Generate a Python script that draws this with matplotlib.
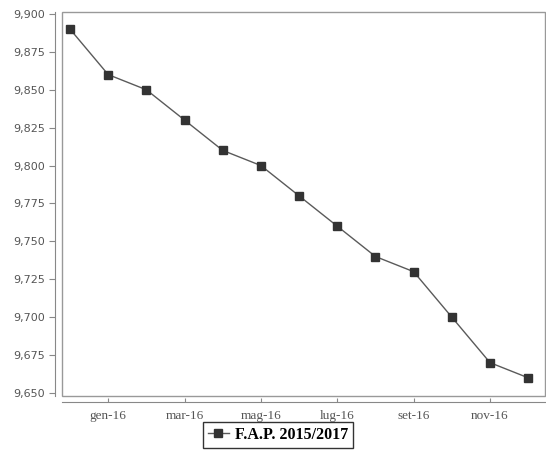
import matplotlib.pyplot as plt
from matplotlib.patches import Rectangle
from matplotlib.ticker import FuncFormatter

months = ["dic-15", "gen-16", "feb-16", "mar-16", "apr-16", "mag-16", "giu-16",
          "lug-16", "ago-16", "set-16", "ott-16", "nov-16", "dic-16"]
fap = [9.89, 9.86, 9.85, 9.83, 9.81, 9.80, 9.78, 9.76, 9.74, 9.73, 9.70, 9.67, 9.66]
series_label = "F.A.P. 2015/2017"

fig = plt.figure(figsize=(5.46, 4.5), dpi=100)
ax = fig.add_axes([62 / 546, 1 - 396 / 450, (545 - 62) / 546, (396 - 12) / 450])

x = list(range(len(months)))
ax.plot(x, fap, color="#5a5a5a", linewidth=1.0, marker="s", markersize=6,
        markerfacecolor="#333333", markeredgecolor="#333333", label=series_label)

ax.set_xlim(-0.21, 12.44)
ax.set_ylim(9.648, 9.9013)
ax.set_yticks([9.65 + 0.025 * i for i in range(11)])
ax.yaxis.set_major_formatter(FuncFormatter(lambda v, p: f"{v:.3f}".replace(".", ",")))
ax.set_xticks(x[1::2], months[1::2])

for side in ("top", "right"):
    ax.spines[side].set_visible(False)
ax.spines["left"].set_position(("outward", 5))
ax.spines["bottom"].set_position(("outward", 4))
ax.spines["left"].set_color("#888888")
ax.spines["bottom"].set_color("#888888")
ax.add_patch(Rectangle((0, 0), 1, 1, transform=ax.transAxes, fill=False,
                       edgecolor="#999999", linewidth=1.0, clip_on=False))

ax.tick_params(axis="y", direction="out", length=4, color="#888888", labelcolor="#555555",
               labelsize=8, pad=3)
ax.tick_params(axis="x", direction="in", length=3, color="#888888", labelcolor="#555555",
               labelsize=9.5, pad=6)
for lbl in ax.get_xticklabels():
    lbl.set_family("Liberation Serif")
for lbl in ax.get_yticklabels():
    lbl.set_family("DejaVu Sans")

leg = fig.legend(loc="center", bbox_to_anchor=(278 / 546, 1 - 435 / 450), frameon=True,
                 fancybox=False, handlelength=1.3, handletextpad=0.4, borderpad=0.3,
                 prop={"family": "Liberation Serif", "weight": "bold", "size": 11.5})
leg.get_frame().set_edgecolor("black")
leg.get_frame().set_linewidth(1.0)

fig.savefig("out.png", dpi=100, facecolor="white")
